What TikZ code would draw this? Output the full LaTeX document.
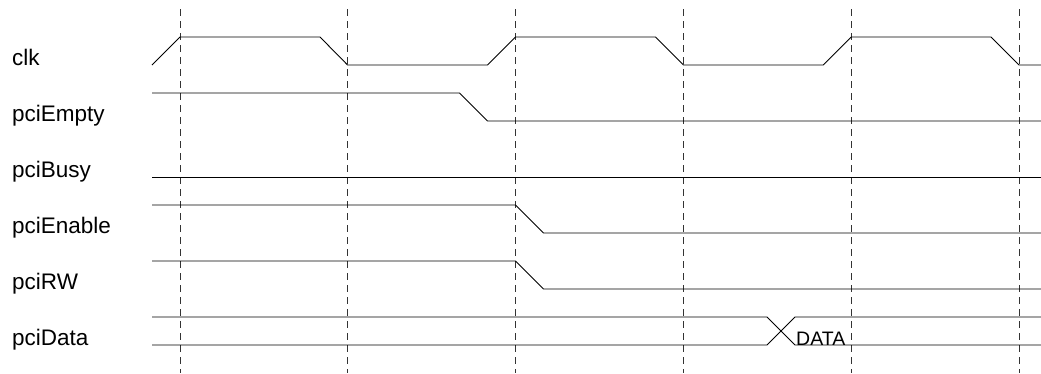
\documentclass[tikz,border=0pt]{standalone}
\usepackage{fontspec}
\setmainfont{Liberation Sans}
\usepackage{tikz}

\begin{document}
\begin{tikzpicture}[x=1pt, y=-1pt,
  sig/.style={line width=0.9pt, color=black},
  tick/.style={line width=0.8pt, color=black!80, dash pattern=on 6.5pt off 5.5pt},
  lbl/.style={anchor=base west, inner sep=0pt,
              font=\fontsize{22.5}{27}\selectfont},
  val/.style={anchor=base west, inner sep=0pt,
              font=\fontsize{19.5}{23}\selectfont},
]
\useasboundingbox (0,0) rectangle (1041,373);

% Clock edges
\foreach \k in {0,...,5}
  \draw[tick] (180+167.8*\k,9) -- (180+167.8*\k,373);

% Signal names
\node[lbl] (nclk)    at (12,65)  {clk};
\node[lbl] (nempty)  at (12,121) {pciEmpty};
\node[lbl] (nbusy)   at (12,177) {pciBusy};
\node[lbl] (nenable) at (12,233) {pciEnable};
\node[lbl] (nrw)     at (12,289) {pciRW};
\node[lbl] (ndata)   at (12,345) {pciData};

% clk
\draw[sig] (152,65) -- (180,37) -- (320,37) -- (347.6,65) -- (487.6,65)
  -- (515.6,37) -- (655.4,37) -- (683.4,65) -- (823.2,65) -- (851.2,37)
  -- (991,37) -- (1019,65) -- (1041,65);

% pciEmpty
\draw[sig] (152,93) -- (459.6,93) -- (487.6,121) -- (1041,121);

% pciBusy
\draw[sig] (152,177) -- (1041,177);

% pciEnable
\draw[sig] (152,205) -- (515.6,205) -- (543.6,233) -- (1041,233);

% pciRW
\draw[sig] (152,261) -- (515.6,261) -- (543.6,289) -- (1041,289);

% pciData
\draw[sig] (152,317) -- (767,317) -- (795,345) -- (1041,345);
\draw[sig] (152,345) -- (767,345) -- (795,317) -- (1041,317);
\node[val] (vdata) at (796,345) {DATA};
\end{tikzpicture}
\end{document}
